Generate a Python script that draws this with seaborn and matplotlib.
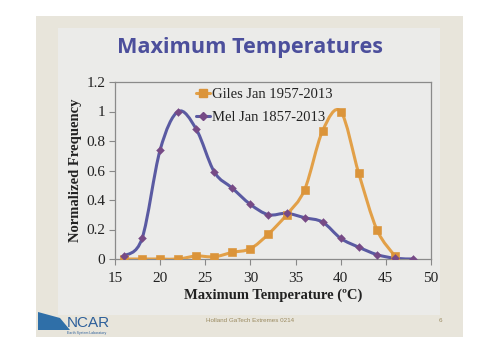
import matplotlib
matplotlib.use("Agg")
import matplotlib.pyplot as plt
import seaborn as sns
import numpy as np
import pandas as pd
from matplotlib.path import Path
from matplotlib.patches import PathPatch, Rectangle, Polygon
from matplotlib.lines import Line2D

# ---- data ----
giles_x = [16, 18, 20, 22, 24, 26, 28, 30, 32, 34, 36, 38, 40, 42, 44, 46]
giles_y = [0.0, 0.0, 0.0, 0.0, 0.02, 0.015, 0.045, 0.07, 0.17, 0.30, 0.47, 0.87, 1.0, 0.58, 0.20, 0.02]
mel_x = [16, 18, 20, 22, 24, 26, 28, 30, 32, 34, 36, 38, 40, 42, 44, 46, 48]
mel_y = [0.02, 0.14, 0.74, 1.0, 0.88, 0.59, 0.48, 0.37, 0.30, 0.31, 0.28, 0.25, 0.14, 0.08, 0.03, 0.005, 0.0]
giles_label = "Giles Jan 1957-2013"
mel_label = "Mel Jan 1857-2013"
x_ticks = [15, 20, 25, 30, 35, 40, 45, 50]
y_ticks = [0, 0.2, 0.4, 0.6, 0.8, 1, 1.2]
y_ticklabels = ["0", "0.2", "0.4", "0.6", "0.8", "1", "1.2"]

sns.set_theme(style="white")
plt.rcParams['font.family'] = ['Liberation Serif', 'DejaVu Serif']

W, H = 500, 353
fig = plt.figure(figsize=(W / 100, H / 100), dpi=100)
fig.patch.set_facecolor("white")

# slide background
fig.patches.append(Rectangle((36 / W, 1 - 337 / H), (463 - 36) / W, (337 - 16) / H,
                             transform=fig.transFigure, facecolor="#E8E5DB", edgecolor="none", zorder=-3))
fig.patches.append(Rectangle((58 / W, 1 - 315 / H), (440 - 58) / W, (315 - 28) / H,
                             transform=fig.transFigure, facecolor="#EBEBE9", edgecolor="none", zorder=-2))

ax = fig.add_axes([115 / W, 1 - 259 / H, (431 - 115) / W, (259 - 82) / H])
ax.set_facecolor("#EBEBEA")

df_g = pd.DataFrame({"x": giles_x, "y": giles_y})
df_m = pd.DataFrame({"x": mel_x, "y": mel_y})

g_line, g_mark = "#E2A048", "#DB943A"
m_line, m_mark = "#5A5AA2", "#764A86"


def smooth_path(xs, ys):
    P = np.column_stack([xs, ys]).astype(float)
    verts = [P[0]]
    codes = [Path.MOVETO]
    n = len(P)
    for i in range(n - 1):
        p0 = P[i - 1] if i > 0 else P[i]
        p1, p2 = P[i], P[i + 1]
        p3 = P[i + 2] if i + 2 < n else P[i + 1]
        c1 = p1 + (p2 - p0) / 6.0
        c2 = p2 - (p3 - p1) / 6.0
        verts += [c1, c2, p2]
        codes += [Path.CURVE4] * 3
    return Path(verts, codes)


ax.add_patch(PathPatch(smooth_path(df_g.x, df_g.y), facecolor="none", edgecolor=g_line, lw=2.2, zorder=3))
ax.add_patch(PathPatch(smooth_path(df_m.x, df_m.y), facecolor="none", edgecolor=m_line, lw=2.2, zorder=3))

sns.scatterplot(data=df_g, x="x", y="y", ax=ax, marker="s", s=30, color=g_mark,
                edgecolor=g_mark, zorder=4, legend=False)
sns.scatterplot(data=df_m, x="x", y="y", ax=ax, marker="D", s=16, color=m_mark,
                edgecolor=m_mark, zorder=4, legend=False)

# legend
handles = [Line2D([], [], color=g_line, lw=2.2, marker="s", markersize=5.5, markerfacecolor=g_mark, markeredgecolor=g_mark),
           Line2D([], [], color=m_line, lw=2.2, marker="D", markersize=4, markerfacecolor=m_mark, markeredgecolor=m_mark)]
ax.legend(handles, [giles_label, mel_label], loc="upper left", bbox_to_anchor=(0.237, 1.0),
          frameon=False, fontsize=10.5, handlelength=0.95, handletextpad=0.2, labelspacing=0.65,
          borderaxespad=0, labelcolor="#222222")

ax.set_xlim(15, 50)
ax.set_ylim(0, 1.2)
ax.set_xticks(x_ticks)
ax.set_yticks(y_ticks)
ax.set_yticklabels(y_ticklabels)
ax.tick_params(axis="x", pad=5)
ax.tick_params(axis="y", pad=3)
ax.tick_params(axis="both", labelsize=11, labelcolor="#222222", length=4, width=0.8, direction="out",
               bottom=True, left=True, color="#888888")
for s in ax.spines.values():
    s.set_color("#8A8A8A")
    s.set_linewidth(0.9)

ax.set_xlabel("Maximum Temperature (ºC)", fontsize=10.5, fontweight="bold", color="#222222", labelpad=3)
ax.set_ylabel("Normalized Frequency", fontsize=10.5, fontweight="bold", color="#222222", labelpad=3)

fig.text(0.5, 1 - 47 / H, "Maximum Temperatures", ha="center", va="center", fontsize=15.6,
         fontweight="bold", color="#4C4F9C", family=["Open Sans", "DejaVu Sans"])

fig.text(0.5, 1 - 321 / H, "Holland GaTech Extremes 0214", ha="center", va="center", fontsize=4.5,
         color="#9A8A60", family=["Liberation Sans", "DejaVu Sans"])
fig.text(440 / W, 1 - 321 / H, "6", ha="center", va="center", fontsize=4.5,
         color="#9A8A60", family=["Liberation Sans", "DejaVu Sans"])

# NCAR logo (decoration)
fig.patches.append(Polygon([(38 / W, 1 - 312 / H), (60 / W, 1 - 318 / H), (70 / W, 1 - 330 / H),
                            (38 / W, 1 - 330 / H)], closed=True, transform=fig.transFigure,
                           facecolor="#2F6FA8", edgecolor="none", zorder=1))
fig.text(67 / W, 1 - 323 / H, "NCAR", ha="left", va="center", fontsize=11, color="#2D5F9A",
         family=["Liberation Sans", "DejaVu Sans"])
fig.text(67 / W, 1 - 333 / H, "Earth System Laboratory", ha="left", va="center", fontsize=2.5,
         color="#2D5F9A", family=["Liberation Sans", "DejaVu Sans"])

fig.savefig("out.png", dpi=100, facecolor=fig.get_facecolor())
